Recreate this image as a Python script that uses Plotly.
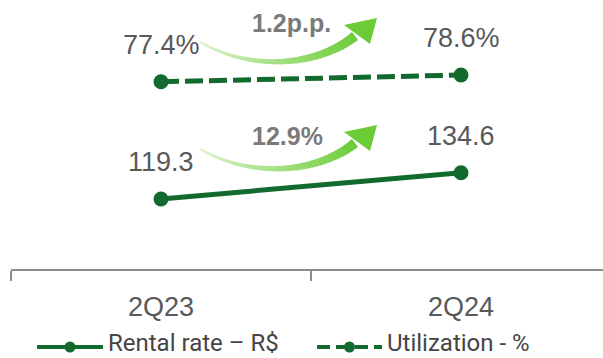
import plotly.graph_objects as go

# ---- data -------------------------------------------------------------
quarters = ["2Q23", "2Q24"]
rental_rate = [119.3, 134.6]          # R$
utilization = [77.4, 78.6]            # %
rental_change = "12.9%"
utilization_change = "1.2p.p."
series_names = ["Rental rate – R$", "Utilization - %"]

# ---- styling ----------------------------------------------------------
GREEN = "#136a2f"
LABEL = "#595959"
CHANGE = "#7a7a7a"
AXIS = "#8c8c8c"
FONT = "Liberation Sans, Arial, sans-serif"
LEGEND_FONT = "Roboto, sans-serif"

W, H = 603, 358
ML, MR, MT, MB = 11, 0, 0, 89
PW, PH = W - ML - MR, H - MT - MB
CAT_PX = 300  # pixel width of one category band


def px(x):
    """pixel x -> paper x"""
    return (x - ML) / PW


def py(y):
    """pixel y (from top) -> paper y"""
    return 1 - (y - MT) / PH


fig = go.Figure()

fig.add_trace(go.Scatter(
    x=quarters, y=rental_rate, name=series_names[0], yaxis="y",
    mode="lines+markers", line=dict(color=GREEN, width=5),
    marker=dict(size=15, color=GREEN), showlegend=False,
))
fig.add_trace(go.Scatter(
    x=quarters, y=utilization, name=series_names[1], yaxis="y2",
    mode="lines+markers", line=dict(color=GREEN, width=5, dash="18px,6px"),
    marker=dict(size=15, color=GREEN), showlegend=False,
))

# value labels above each point
for q, v in zip(quarters, rental_rate):
    fig.add_annotation(x=q, y=v, yref="y", text=f"{v:.1f}", showarrow=False,
                       yshift=37, xanchor="center", yanchor="middle",
                       font=dict(family=FONT, size=27, color=LABEL))
for q, v in zip(quarters, utilization):
    fig.add_annotation(x=q, y=v, yref="y2", text=f"{v:.1f}%", showarrow=False,
                       yshift=37, xanchor="center", yanchor="middle",
                       font=dict(family=FONT, size=27, color=LABEL))


# ---- curved gradient growth arrows -----------------------------------
def bezier(p, t):
    (x0, y0), (x1, y1), (x2, y2), (x3, y3) = p
    a, b, c, d = (1 - t) ** 3, 3 * (1 - t) ** 2 * t, 3 * (1 - t) * t ** 2, t ** 3
    return a * x0 + b * x1 + c * x2 + d * x3, a * y0 + b * y1 + c * y2 + d * y3


def mix(c0, c1, t):
    return "rgb({},{},{})".format(*[round(a + (b - a) * t) for a, b in zip(c0, c1)])


def growth_arrow(dy):
    pts = [(200, 42 + dy), (252, 72 + dy), (318, 66 + dy), (355, 36 + dy)]
    light, strong = (226, 245, 212), (108, 204, 56)
    n = 40
    for i in range(n):
        t0, t1 = i / n, min(1.0, (i + 1.25) / n)
        xa, ya = bezier(pts, t0)
        xb, yb = bezier(pts, t1)
        tt = (i + 0.5) / n
        fig.add_shape(type="line", xref="paper", yref="paper",
                      x0=px(xa), y0=py(ya), x1=px(xb), y1=py(yb),
                      line=dict(color=mix(light, strong, tt ** 0.85),
                                width=2.5 + 7.5 * tt ** 1.3))
    head = [(344, 25 + dy), (377, 18 + dy), (370, 44 + dy)]
    path = "M " + " L ".join(f"{px(x)},{py(y)}" for x, y in head) + " Z"
    fig.add_shape(type="path", xref="paper", yref="paper", path=path,
                  fillcolor=mix(light, strong, 1.0), line=dict(width=0))


growth_arrow(0)
growth_arrow(107)

fig.add_annotation(xref="paper", yref="paper", x=px(291), y=py(23),
                   xanchor="center", yanchor="middle",
                   text=f"<b>{utilization_change}</b>", showarrow=False,
                   font=dict(family=FONT, size=25, color=CHANGE))
fig.add_annotation(xref="paper", yref="paper", x=px(287), y=py(136),
                   xanchor="center", yanchor="middle",
                   text=f"<b>{rental_change}</b>", showarrow=False,
                   font=dict(family=FONT, size=25, color=CHANGE))

# ---- legend -------------------------------------------------------------
LEG_Y = 347
legend_items = [
    (series_names[0], 37, 103, "solid"),
    (series_names[1], 317, 382, "13px,6px"),
]
for name, xa, xb, dash in legend_items:
    fig.add_shape(type="line", xref="paper", yref="paper",
                  x0=px(xa), x1=px(xb), y0=py(LEG_Y), y1=py(LEG_Y),
                  line=dict(color=GREEN, width=4, dash=dash))
    cx = (xa + xb) / 2
    fig.add_shape(type="circle", xref="paper", yref="paper",
                  x0=px(cx - 5.5), x1=px(cx + 5.5),
                  y0=py(LEG_Y + 5.5), y1=py(LEG_Y - 5.5),
                  fillcolor=GREEN, line=dict(width=0))
    fig.add_annotation(xref="paper", yref="paper", x=px(xb + 4), y=py(LEG_Y - 4),
                       xanchor="left", yanchor="middle", text=name, showarrow=False,
                       borderpad=0,
                       font=dict(family=LEGEND_FONT, size=24, color="#454545"))

# ---- axes -------------------------------------------------------------
fig.update_layout(
    width=W, height=H,
    margin=dict(l=ML, r=MR, t=MT, b=MB),
    paper_bgcolor="white", plot_bgcolor="white",
    showlegend=False,
    xaxis=dict(
        type="category", categoryorder="array", categoryarray=quarters,
        range=[-0.5, -0.5 + PW / CAT_PX],
        showline=True, linecolor=AXIS, linewidth=1.5,
        ticks="outside", tickson="boundaries", ticklen=10,
        tickcolor=AXIS, tickwidth=1.5, showgrid=False, zeroline=False,
        ticklabelstandoff=13,
        tickfont=dict(family=FONT, size=27, color=LABEL),
    ),
    yaxis=dict(range=[78.58, 235.07], visible=False, fixedrange=True),
    yaxis2=dict(range=[43.84, 92.05], visible=False, overlaying="y"),
)

fig.write_html("out.html")
